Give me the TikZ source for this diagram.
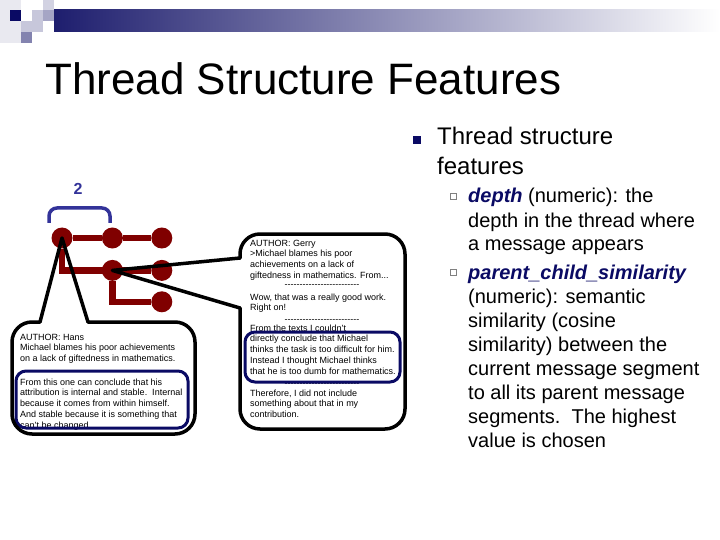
\documentclass[tikz,border=0pt]{standalone}
\usepackage{fontspec}
\setmainfont{Liberation Sans}
\usepackage{xcolor}
\usepackage{tikz}
\usetikzlibrary{positioning}

\definecolor{treered}{RGB}{128,0,0}
\definecolor{navyblue}{RGB}{10,10,100}
\definecolor{bracecol}{RGB}{51,51,153}
\definecolor{barnavy}{RGB}{30,30,110}
\newcommand{\dashline}{\foreach\k in {1,...,25}{-}}

\begin{document}
\begin{tikzpicture}[
    x=1pt, y=-1pt,
    msg/.style={circle, fill=treered, minimum size=21pt, inner sep=0pt},
    link/.style={draw=treered, line width=6.5pt},
    callout/.style={draw=black, line width=3.5pt, line cap=round, line join=round},
    hilite/.style={draw=navyblue, line width=3pt, rounded corners=10pt},
    posttext/.style={font=\fontsize{9}{10.8}\selectfont, align=left, anchor=base west, inner sep=0pt},
    slidetext/.style={align=left, anchor=base west, inner sep=0pt}
]
\useasboundingbox (0,0) rectangle (720,540);

% top left decoration
\fill[barnavy!10] (0,0) rectangle (21,43);
\fill[barnavy!20] (43,0) rectangle (54,10);
\fill[navyblue] (10,10) rectangle (21,21);
\fill[barnavy!25] (32,10) rectangle (43,21);
\fill[barnavy!40] (43,10) rectangle (54,21);
\fill[barnavy!25] (21,21) rectangle (43,32);
\fill[barnavy!55] (21,32) rectangle (32,43);
\shade[left color=barnavy, right color=white] (54,10) rectangle (720,32);

\node[slidetext, font=\fontsize{44}{48}\selectfont] (title) at (45,95) {Thread Structure Features};

% feature list (multi-line nodes sit on their last baseline)
\node[fill=navyblue, minimum size=8pt, inner sep=0pt] (b0) at (416.5,140) {};
\node[slidetext, font=\fontsize{24}{30}\selectfont] (head) at (437,175) {Thread structure\\features};
\node[draw=gray, line width=0.6pt, minimum size=6pt, inner sep=0pt] (b1) at (453.5,196) {};
\node[slidetext, font=\fontsize{20}{24}\selectfont] (depth) at (468,251)
  {\textcolor{navyblue}{\textbf{\textit{depth}}} (numeric): the\\depth in the thread where\\a message appears};
\node[draw=gray, line width=0.6pt, minimum size=6pt, inner sep=0pt] (b2) at (453.5,272) {};
\node[slidetext, font=\fontsize{20}{24}\selectfont] (pcsim) at (468,447)
  {\textcolor{navyblue}{\textbf{\textit{parent\_child\_similarity}}}\\(numeric): semantic\\similarity (cosine\\similarity) between the\\current message segment\\to all its parent message\\segments.\ \ The highest\\value is chosen};

% thread tree
\node[text=bracecol, font=\fontsize{16}{16}\selectfont\bfseries] (lvl) at (78,189) {2};
\draw[bracecol, line width=3.5pt, rounded corners=8pt] (49,223) -- (49,208) -- (110,208) -- (110,223);

\node[msg] (m1) at (62,238) {};
\node[msg, right=29pt of m1] (m2) {};
\node[msg, right=28pt of m2] (m3) {};
\node[msg, below=11pt of m2] (m4) {};
\node[msg, right=28pt of m4] (m5) {};
\node[msg, below=10pt of m5] (m6) {};
\draw[link] (m1) -- (m2);
\draw[link] (m2) -- (m3);
\draw[link] (m1) |- (m5);
\draw[link] (m4) |- (m6);

% posts
\node[posttext] (hans) at (20,361.6) {AUTHOR: Hans\\Michael blames his poor achievements\\on a lack of giftedness in mathematics.};
\node[posttext] (hansnote) at (20,428.2) {From this one can conclude that his\\attribution is internal and stable.\ \ Internal\\because it comes from within himself.\\And stable because it is something that\\can't be changed.};

\node[posttext] (gerry) at (250,278.4) {AUTHOR: Gerry\\>Michael blames his poor\\achievements on a lack of\\giftedness in mathematics. From...};
\node[posttext, anchor=base] (sep1) at (322,287) {\dashline};
\node[posttext] (reply) at (250,310.8) {Wow, that was a really good work.\\Right on!};
\node[posttext, anchor=base] (sep2) at (322,322) {\dashline};
\node[posttext] (gerrynote) at (250,374.2) {From the texts I couldn't\\directly conclude that Michael\\thinks the task is too difficult for him.\\Instead I thought Michael thinks\\that he is too dumb for mathematics.};
\node[posttext, anchor=base] (sep3) at (322,386) {\dashline};
\node[posttext] (closing) at (250,417.6) {Therefore, I did not include\\something about that in my\\contribution.};

\draw[hilite] (16,371) rectangle (188,428);
\draw[hilite] (245,332) rectangle (400,382);

% callouts
\draw[callout, rounded corners=20pt] (88,322) -- (195,322) -- (195,434) -- (12,434) -- (12,322) -- (40,322);
\draw[callout] (40,322) -- (m1.center) -- (88,322);
\draw[callout, rounded corners=20pt] (240,258) -- (240,234) -- (405,234) -- (405,429) -- (240,429) -- (240,308);
\draw[callout] (240,258) -- (m4.center) -- (240,308);
\end{tikzpicture}
\end{document}
